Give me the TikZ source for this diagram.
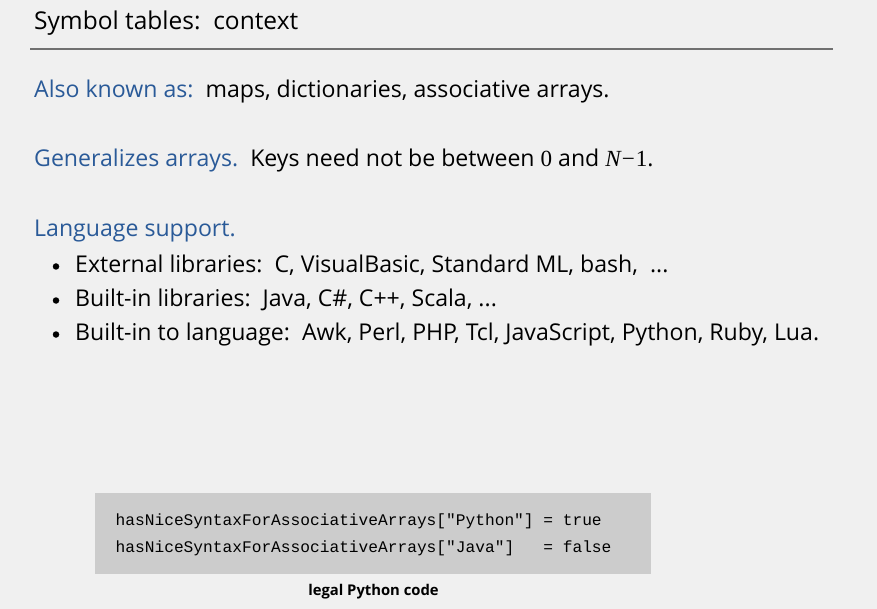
\documentclass[tikz,border=0pt]{standalone}
\usepackage{fontspec}
\setmainfont{Open Sans}
\setmonofont{Liberation Mono}
\newfontfamily\serifnum{Liberation Serif}
\definecolor{bgc}{HTML}{F0F0F0}
\definecolor{headblue}{HTML}{2A5A98}
\definecolor{rulegray}{HTML}{707070}
\definecolor{boxgray}{HTML}{CCCCCC}
\tikzset{
  txt/.style={anchor=base west, inner sep=0pt, font=\fontsize{23.1}{27}\selectfont, text=black},
  ttl/.style={anchor=base west, inner sep=0pt, font=\fontsize{24.5}{29}\selectfont, text=black},
  code/.style={anchor=base west, inner sep=0pt, font=\fontsize{16.2}{19}\ttfamily, text=black},
  captxt/.style={anchor=base, inner sep=0pt, font=\fontsize{14.8}{17}\bfseries\selectfont, text=black},
  bul/.style={circle, fill=black, inner sep=0pt, minimum size=6.5pt},
}
\begin{document}
\begin{tikzpicture}[x=1pt,y=-1pt]
\fill[bgc] (0,0) rectangle (877,609);
\useasboundingbox (0,0) rectangle (877,609);
\node[ttl] (title) at (34,29.5) {Symbol tables:\ \ context};
\coordinate (rl) at (30,49);
\coordinate (rr) at (833,49);
\draw[rulegray, line width=2pt] (rl) -- (rr);
\node[txt] (aka) at (34,97.5) {\textcolor{headblue}{Also known as:}\ \ maps, dictionaries, associative arrays.};
\node[txt] (gen) at (34,166.5) {\textcolor{headblue}{Generalizes arrays.}\ \ Keys need not be between {\serifnum 0} and {\serifnum\itshape N}{\serifnum\kern1pt−\kern1pt1}.};
\node[txt] (lang) at (34,236.7) {\textcolor{headblue}{Language support.}};
\node[bul] (b1) at (56,266.5) {};
\node[txt] (l1) at (75,272.7) {External libraries:\ \ C, VisualBasic, Standard ML, bash,\ \ ...};
\node[bul] (b2) at (56,300.5) {};
\node[txt] (l2) at (75,306.7) {Built-in libraries:\ \ Java, C\#, C++, Scala, ...};
\node[bul] (b3) at (56,334.5) {};
\node[txt] (l3) at (75,340.7) {Built-in to language:\ \ Awk, Perl, PHP, Tcl, JavaScript, Python, Ruby, Lua.};
\fill[boxgray] (95,493) rectangle (651,574);
\node[code] (c1) at (115.5,525.7) {hasNiceSyntaxForAssociativeArrays["Python"]\ =\ true};
\node[code] (c2) at (115.5,552.5) {hasNiceSyntaxForAssociativeArrays["Java"]\ \ \ =\ false};
\node[captxt] (capt) at (373.5,595) {legal Python code};
\end{tikzpicture}
\end{document}
